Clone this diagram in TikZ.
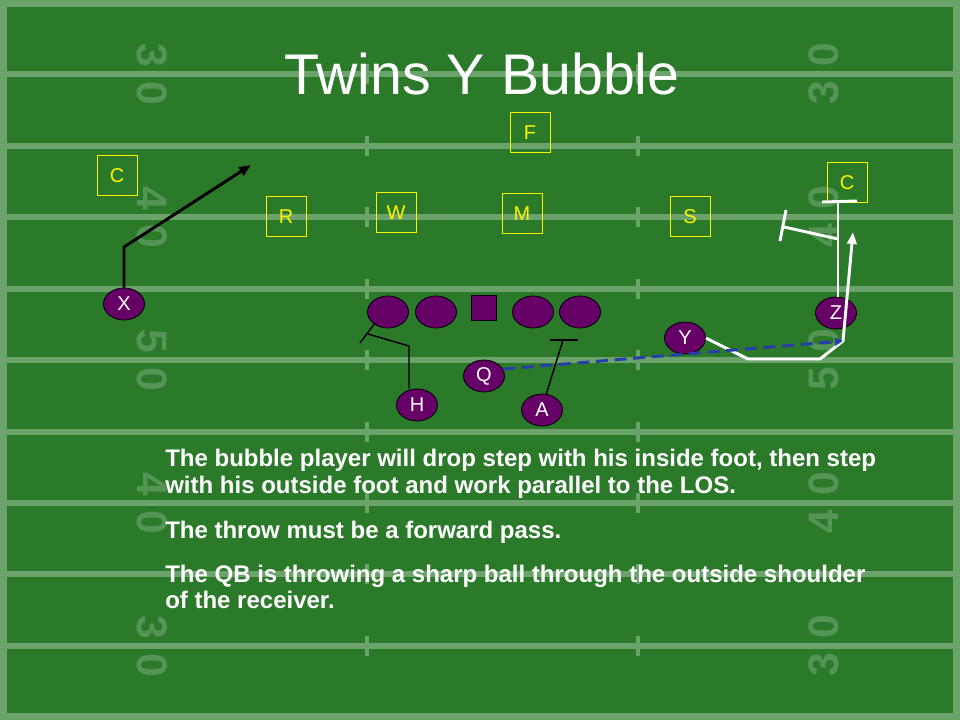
\documentclass[tikz,border=0pt]{standalone}
\usepackage{fontspec}
\setmainfont{Liberation Sans}
\usetikzlibrary{arrows.meta,shapes.geometric,positioning,calc}

\definecolor{turf}{RGB}{42,122,42}
\definecolor{chalk}{RGB}{108,163,108}
\definecolor{jersey}{RGB}{102,0,102}
\definecolor{passblue}{RGB}{40,60,170}

\tikzset{
	yardline/.style={chalk, line width=4pt},
	yardnum/.style={text=chalk, opacity=0.65, inner sep=0pt, font=\bfseries\fontsize{32}{32}\selectfont},
	defender/.style={draw=yellow, text=yellow, line width=0.75pt, minimum size=30pt, inner sep=0pt, font=\fontsize{15}{15}\selectfont},
	player/.style={ellipse, draw=black, fill=jersey, text=white, line width=0.6pt, minimum width=30.75pt, minimum height=24pt, inner sep=0pt, font=\fontsize{15}{15}\selectfont},
	snapper/.style={draw=black, fill=jersey, line width=0.6pt, minimum size=18.75pt, inner sep=0pt},
	route/.style={line width=2.2pt},
	block/.style={line width=1.1pt},
	note/.style={text=white, anchor=base west, inner sep=0pt, font=\bfseries\fontsize{18}{20}\selectfont},
}

\begin{document}
\begin{tikzpicture}[x=0.75pt, y=-0.75pt]
	\fill[turf] (0,0) rectangle (960,720);
	\useasboundingbox (0,0) rectangle (960,720);

	% field
	\draw[chalk, line width=5pt] (3.5,3.5) rectangle (956.5,716.5);
	\foreach \y in {74,146,217,289,360,432,503,574,646}{
		\draw[yardline] (3,\y) -- (957,\y);
		\draw[chalk, line width=3pt] (367,\y-10) -- (367,\y+10);
		\draw[chalk, line width=3pt] (638,\y-10) -- (638,\y+10);
	}
	\foreach \y/\a/\b in {74/3/0,217/4/0,360/5/0,503/4/0,646/3/0}{
		\node[yardnum, rotate=-90] (numLa\y) at (152,\y-19) {\a};
		\node[yardnum, rotate=-90] (numLb\y) at (152,\y+19) {\b};
		\node[yardnum, rotate=90] (numRa\y) at (824,\y+19) {\a};
		\node[yardnum, rotate=90] (numRb\y) at (824,\y-19) {\b};
	}

	\node[text=white, anchor=base, inner sep=0pt, font=\fontsize{43}{43}\selectfont] (title) at (482,95) {Twins Y Bubble};

	% defense
	\node[defender] (Cl) at (117,176) {C};
	\node[defender] (R) at (286,217) {R};
	\node[defender] (W) at (396,213) {W};
	\node[defender] (M) at (522,214) {M};
	\node[defender] (F) at (530,133) {F};
	\node[defender] (S) at (690,217) {S};
	\node[defender] (Cr) at (847,183) {C};

	% offense
	\node[player] (LT) at (388,312) {};
	\node[player] (LG) at (436,312) {};
	\node[snapper] (OC) at (484,308) {};
	\node[player] (RG) at (533,312) {};
	\node[player] (RT) at (580,312) {};
	\node[player] (X) at (124,304) {X};
	\node[player] (Q) at (484,376) {Q};
	\node[player] (H) at (417,405) {H};
	\node[player] (A) at (542,410) {A};
	\node[player] (Y) at (685,338) {Y};
	\node[player] (Z) at (836,313) {Z};

	% route points
	\coordinate (Xbreak) at (124,247);
	\coordinate (Xend) at (251,165);
	\coordinate (Hturn) at (409,346);
	\coordinate (Hend) at (368,334);
	\coordinate (Aend) at (563,340);
	\coordinate (Ydip) at (748,359);
	\coordinate (Yflat) at (820,359);
	\coordinate (catch) at (843,341);
	\coordinate (Yend) at (853,232);
	\coordinate (Ztop) at (838,202);
	\coordinate (Zsplit) at (838,239);
	\coordinate (Zend) at (784,227);

	% routes
	\draw[route, -{Triangle[length=9pt,width=7pt]}] (X.north) -- (Xbreak) -- (Xend);
	\draw[block] (Hturn |- H.north) -- (Hturn) -- (Hend);
	\draw[block] ($(Hend)+(7,-11)$) -- ($(Hend)+(-8,9)$);
	\draw[block] (A.75) -- (Aend);
	\draw[block] ($(Aend)+(-13,0)$) -- ($(Aend)+(15,0)$);
	\draw[white, route, -{Triangle[length=9pt,width=7pt]}] (Y.east) -- (Ydip) -- (Yflat) -- (catch) -- (Yend);
	\draw[white, route] (Ztop |- Z.north) -- (Ztop);
	\draw[white, route] ($(Ztop)+(-16,0)$) -- ($(Ztop)+(19,-1)$);
	\draw[white, route] (Zsplit) -- (Zend);
	\draw[white, route] ($(Zend)+(2,-17)$) -- ($(Zend)+(-4,14)$);
	\draw[passblue, route, dash pattern=on 9pt off 5pt, -{Triangle[length=6pt,width=6pt]}] (Q.20) -- (catch);

	% coaching points
	\node[note] (line1) at (165,466) {The bubble player will drop step with his inside foot, then step};
	\node[note] (line2) at (165,493) {with his outside foot and work parallel to the LOS.};
	\node[note] (line3) at (165,538) {The throw must be a forward pass.};
	\node[note] (line4) at (165,582) {The QB is throwing a sharp ball through the outside shoulder};
	\node[note] (line5) at (165,608) {of the receiver.};
\end{tikzpicture}
\end{document}
